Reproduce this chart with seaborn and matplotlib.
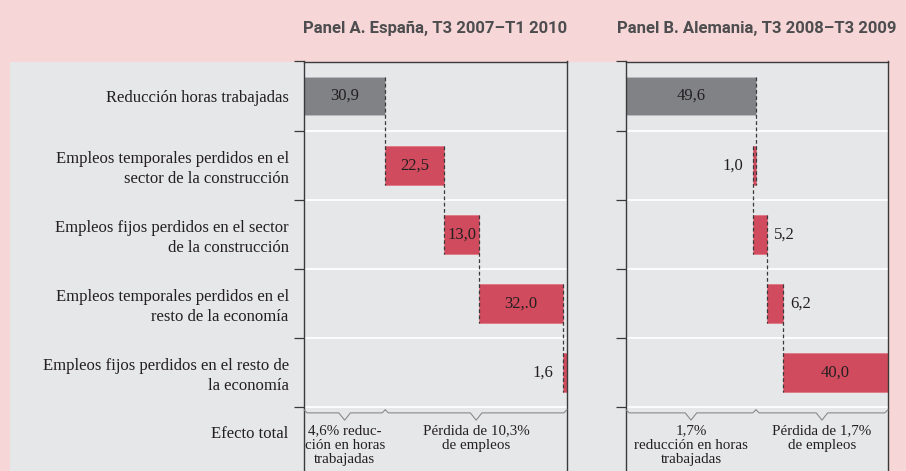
import numpy as np
import pandas as pd
import matplotlib
matplotlib.use("Agg")
import matplotlib.pyplot as plt
from matplotlib.patches import Rectangle
from matplotlib.ticker import FixedLocator
import seaborn as sns

# --- Datos
categorias = [
    "Reducción horas trabajadas",
    "Empleos temporales perdidos en el\nsector de la construcción",
    "Empleos fijos perdidos en el sector\nde la construcción",
    "Empleos temporales perdidos en el\nresto de la economía",
    "Empleos fijos perdidos en el resto de\nla economía",
]
fila_total = "Efecto total"

valores_espana = [30.9, 22.5, 13.0, 32.0, 1.6]
etiquetas_espana = ["30,9", "22,5", "13,0", "32,.0", "1,6"]
lado_espana = ["c", "c", "c", "c", "i"]  # c = centro, i = izquierda, d = derecha
llaves_espana = ["4,6% reduc-\nción en horas\ntrabajadas", "Pérdida de 10,3%\nde empleos"]

valores_alemania = [49.6, -1.0, 5.2, 6.2, 40.0]
etiquetas_alemania = ["49,6", "1,0", "5,2", "6,2", "40,0"]
lado_alemania = ["c", "i", "d", "d", "c"]
llaves_alemania = ["1,7%\nreducción en horas\ntrabajadas", "Pérdida de 1,7%\nde empleos"]

titulos = ["Panel A. España, T3 2007–T1 2010", "Panel B. Alemania, T3 2008–T3 2009"]

# --- Estilo
ROSA = "#f6d6d6"
GRIS_FONDO = "#e6e7e9"
GRIS_BARRA = "#808285"
ROJO = "#d14b5e"
TEXTO = "#231f20"
ANCHO = 0.56

sns.set_theme(style="white")
plt.rcParams["font.family"] = ["Liberation Serif", "DejaVu Serif"]

fig = plt.figure(figsize=(9.06, 4.71), dpi=100, facecolor=ROSA)
W, H = 906, 471

# Zona gris común a los dos paneles (detrás de los ejes)
fig.patches.append(Rectangle((10 / W, 0), (888 - 10) / W, (H - 61.5) / H,
                             transform=fig.transFigure, facecolor=GRIS_FONDO,
                             edgecolor="none", zorder=-5))

ax_a = fig.add_axes([304 / W, 0, 263 / W, (H - 61.5) / H])
ax_b = fig.add_axes([626 / W, 0, 262 / W, (H - 61.5) / H])


def panel(ax, valores, etiquetas, lados, llaves, titulo, con_nombres):
    df = pd.DataFrame({"categoria": categorias, "valor": valores})
    colores = [GRIS_BARRA] + [ROJO] * (len(categorias) - 1)
    sns.barplot(data=df, x="valor", y="categoria", hue="categoria",
                palette=colores, saturation=1, legend=False, width=ANCHO,
                errorbar=None, orient="h", ax=ax, zorder=2)

    # Cascada : chaque barre commence où finit la précédente
    fin = np.cumsum(valores)
    inicio = fin - np.array(valores)
    for parche, x0, c in zip(ax.patches, inicio, colores):
        parche.set_x(x0)
        parche.set_edgecolor("#b9babd" if c == GRIS_BARRA else "#e07c8a")
        parche.set_linewidth(0.7)

    # Líneas discontinuas de unión
    for i in range(len(valores) - 1):
        ax.vlines(fin[i], i - ANCHO / 2, i + 1 + ANCHO / 2, colors="#3a3a3a",
                  linestyles=(0, (3, 2)), linewidth=0.9, zorder=3)

    # Etiquetas de valores
    for i, (et, lado) in enumerate(zip(etiquetas, lados)):
        izq, der = min(inicio[i], fin[i]), max(inicio[i], fin[i])
        if lado == "c":
            ax.text((izq + der) / 2, i, et, ha="center", va="center",
                    fontsize=12, color=TEXTO, zorder=4)
        elif lado == "i":
            ax.annotate(et, (izq, i), xytext=(-7, 0), textcoords="offset points",
                        ha="right", va="center", fontsize=12, color=TEXTO)
        else:
            ax.annotate(et, (der, i), xytext=(5, 0), textcoords="offset points",
                        ha="left", va="center", fontsize=12, color=TEXTO)

    # Llaves del efecto total
    corte = valores[0]
    for (x0, x1), texto in zip([(0, corte), (corte, 100)], llaves):
        m = (x0 + x1) / 2
        xs = [x0, x0 + 1.2, m - 2.2, m, m + 2.2, x1 - 1.2, x1]
        ys = [4.54, 4.585, 4.585, 4.69, 4.585, 4.585, 4.54]
        ax.plot(xs, ys, color="#8a8a8a", lw=0.8, zorder=3, clip_on=False)
        ax.text(m, 4.75, texto, ha="center", va="top", fontsize=10.8,
                color=TEXTO, linespacing=1.15)

    # Ejes
    ax.set_xlim(0, 100)
    ax.set_ylim(5.426, -0.5)
    ax.set_facecolor(GRIS_FONDO)
    ax.set_xlabel("")
    ax.set_ylabel("")
    ax.set_xticks([])
    ax.set_yticks(list(range(len(categorias))) + [4.86])
    if con_nombres:
        ax.set_yticklabels(categorias + [fila_total], fontsize=12,
                           color=TEXTO, linespacing=1.3)
    else:
        ax.set_yticklabels([])
    ax.yaxis.set_minor_locator(FixedLocator(np.arange(-0.5, len(categorias), 1)))
    ax.tick_params(axis="y", which="major", length=0, pad=11)
    ax.tick_params(axis="y", which="minor", left=True, length=7, width=0.9,
                   color="#3a3a3a", direction="out")
    ax.grid(False)
    ax.grid(True, which="minor", axis="y", color="white", linewidth=1.3, zorder=1)
    ax.set_axisbelow(True)
    for lado_eje in ["left", "top", "right"]:
        ax.spines[lado_eje].set_visible(True)
        ax.spines[lado_eje].set_color("#3a3a3a")
        ax.spines[lado_eje].set_linewidth(1.0)
    ax.spines["bottom"].set_visible(False)

    centro = (ax.get_position().x0 + ax.get_position().x1) / 2
    fig.text(centro, 1 - 28 / H, titulo, ha="center", va="center",
             fontsize=12, fontweight="bold", color="#4d4d4f",
             family=["Roboto", "DejaVu Sans"])


panel(ax_a, valores_espana, etiquetas_espana, lado_espana, llaves_espana, titulos[0], True)
panel(ax_b, valores_alemania, etiquetas_alemania, lado_alemania, llaves_alemania, titulos[1], False)

fig.savefig("out.png", dpi=100, facecolor=ROSA)
